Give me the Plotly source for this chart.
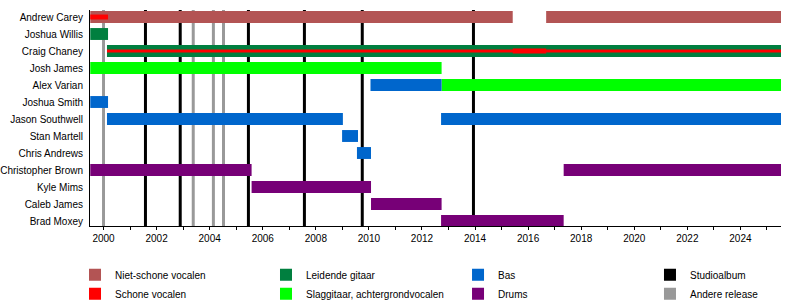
import plotly.graph_objects as go

members = ["Andrew Carey", "Joshua Willis", "Craig Chaney", "Josh James", "Alex Varian",
           "Joshua Smith", "Jason Southwell", "Stan Martell", "Chris Andrews",
           "Christopher Brown", "Kyle Mims", "Caleb James", "Brad Moxey"]

# role periods (member, start, end) in decimal years
unclean_member = ["Andrew Carey", "Andrew Carey"]
unclean_start = [1999.5, 2016.68]
unclean_end = [2015.42, 2025.53]

lead_member = ["Joshua Willis", "Craig Chaney"]
lead_start = [1999.5, 2000.13]
lead_end = [2000.17, 2025.53]

rhythm_member = ["Josh James", "Alex Varian"]
rhythm_start = [1999.5, 2012.74]
rhythm_end = [2012.74, 2025.53]

bass_member = ["Joshua Smith", "Jason Southwell", "Stan Martell", "Chris Andrews",
               "Alex Varian", "Jason Southwell"]
bass_start = [1999.5, 2000.13, 2008.99, 2009.55, 2010.06, 2012.72]
bass_end = [2000.17, 2009.02, 2009.59, 2010.08, 2012.74, 2025.53]

drums_member = ["Christopher Brown", "Kyle Mims", "Caleb James", "Brad Moxey", "Christopher Brown"]
drums_start = [1999.5, 2005.58, 2010.08, 2012.72, 2017.34]
drums_end = [2005.58, 2010.08, 2012.74, 2017.34, 2025.53]

# clean vocals: main (thick) and secondary (thin)
clean_member = ["Andrew Carey", "Craig Chaney"]
clean_start = [1999.5, 2015.42]
clean_end = [2000.17, 2016.68]

clean2_member = ["Craig Chaney"]
clean2_start = [2000.13]
clean2_end = [2025.53]

studio_albums = [2001.58, 2002.89, 2005.46, 2007.57, 2009.75, 2013.94]
other_releases = [2000.0, 2003.38, 2004.14, 2004.52]

x_ticks = list(range(2000, 2026, 2))

C_UNCLEAN = "#b35454"
C_CLEAN = "#ff0000"
C_LEAD = "#007f3f"
C_RHYTHM = "#00ff00"
C_BASS = "#0066cc"
C_DRUMS = "#770077"
C_STUDIO = "#000000"
C_OTHER = "#999999"

idx = {m: i for i, m in enumerate(members)}

fig = go.Figure()


def add_role(name, mem, st, en, color, width, legend, rank, show=True):
    fig.add_trace(go.Bar(
        orientation="h",
        y=[idx[m] for m in mem],
        base=st,
        x=[e - s for s, e in zip(st, en)],
        width=width,
        marker=dict(color=color, line=dict(width=0)),
        name=name,
        legend=legend,
        legendrank=rank,
        showlegend=show,
        hoverinfo="skip",
    ))


add_role("Niet-schone vocalen", unclean_member, unclean_start, unclean_end, C_UNCLEAN, 0.7, "legend", 1)
add_role("Leidende gitaar", lead_member, lead_start, lead_end, C_LEAD, 0.7, "legend2", 1)
add_role("Slaggitaar, achtergrondvocalen", rhythm_member, rhythm_start, rhythm_end, C_RHYTHM, 0.7, "legend2", 2)
add_role("Bas", bass_member, bass_start, bass_end, C_BASS, 0.7, "legend3", 1)
add_role("Drums", drums_member, drums_start, drums_end, C_DRUMS, 0.7, "legend3", 2)
add_role("Schone vocalen", clean2_member, clean2_start, clean2_end, C_CLEAN, 0.17, "legend", 2, show=False)
add_role("Schone vocalen", clean_member, clean_start, clean_end, C_CLEAN, 0.29, "legend", 2)

# legend-only entries for release lines
for nm, col, rk in [("Studioalbum", C_STUDIO, 1), ("Andere release", C_OTHER, 2)]:
    fig.add_trace(go.Bar(orientation="h", x=[None], y=[None], name=nm,
                         marker=dict(color=col, line=dict(width=0)),
                         legend="legend4", legendrank=rk, hoverinfo="skip"))

for v in other_releases:
    fig.add_vline(x=v, line=dict(color=C_OTHER, width=3), layer="below")
for v in studio_albums:
    fig.add_vline(x=v, line=dict(color=C_STUDIO, width=3), layer="below")

font = dict(family="Liberation Sans, Arial, sans-serif", size=10, color="#000000")
leg_common = dict(orientation="v", yanchor="top", xanchor="left", font=font,
                  bgcolor="rgba(0,0,0,0)", tracegroupgap=0, itemsizing="constant")
legy = -0.158

fig.update_layout(
    width=800, height=306,
    margin=dict(l=90, r=19, t=10, b=80, autoexpand=False),
    paper_bgcolor="white", plot_bgcolor="white",
    barmode="overlay",
    font=font,
    legend=dict(x=-0.0217, y=legy, **leg_common),
    legend2=dict(x=0.2547, y=legy, **leg_common),
    legend3=dict(x=0.5326, y=legy, **leg_common),
    legend4=dict(x=0.8104, y=legy, **leg_common),
    xaxis=dict(range=[1999.49, 2025.53], tickvals=x_ticks, ticktext=[str(t) for t in x_ticks],
               ticks="outside", ticklen=3, tickcolor="#000", tickwidth=1,
               minor=dict(dtick=1, tick0=2000, ticks="outside", ticklen=3, tickcolor="#000"),
               showline=True, linecolor="#000", linewidth=1, showgrid=False, zeroline=False,
               tickfont=font, automargin=False),
    yaxis=dict(range=[12.294, -0.412], tickvals=list(range(len(members))), ticktext=members,
               showline=True, linecolor="#000", linewidth=1, showgrid=False, zeroline=False,
               ticks="", ticklabelstandoff=4, tickfont=font, automargin=False),
)

fig.write_html("out.html")
